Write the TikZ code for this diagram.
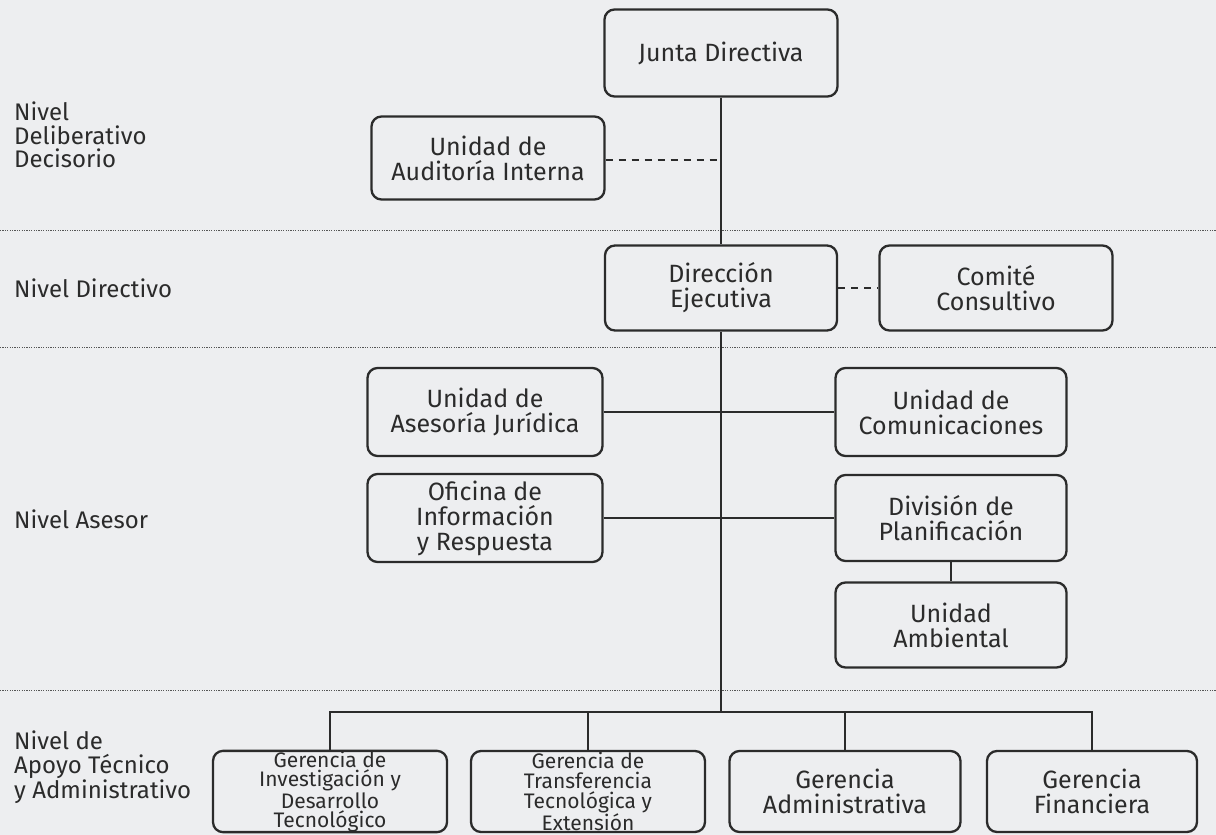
\documentclass[tikz,border=0pt]{standalone}
\usepackage{fontspec}
\setmainfont{Fira Sans}
\definecolor{bg}{HTML}{EDEEF0}
\definecolor{ink}{HTML}{2B2B2B}
\begin{document}
\begin{tikzpicture}[x=1pt,y=-1pt,
  box/.style={draw=ink,line width=2.3pt,rounded corners=10pt,align=center,inner sep=1pt,
    font=\fontsize{25}{25}\selectfont,text=ink},
  sbox/.style={box,inner sep=0pt,font=\fontsize{21}{19.6}\selectfont},
  conn/.style={draw=ink,line width=1.8pt},
  dconn/.style={draw=ink,line width=1.8pt,dash pattern=on 7pt off 6pt},
  sep/.style={draw=ink!80,line width=0.9pt,dash pattern=on 1.2pt off 1.2pt},
  lvl/.style={align=left,font=\fontsize{24}{23.5}\selectfont,text=ink,inner sep=0pt}]
\fill[bg] (0,0) rectangle (1216,835);
\useasboundingbox (0,0) rectangle (1216,835);
% separators
\draw[sep] (0,230) -- (1216,230);
\draw[sep] (0,347) -- (1216,347);
\draw[sep] (0,690) -- (1216,690);
% level labels
\node[lvl,anchor=north west] (l1) at (14,102) {Nivel\\Deliberativo\\Decisorio};
\node[lvl,anchor=base west] (l2) at (14,297) {Nivel Directivo};
\node[lvl,anchor=base west] (l3) at (14,528) {Nivel Asesor};
\node[lvl,anchor=north west] (l4) at (14,731) {Nivel de\\Apoyo Técnico\\y Administrativo};
% boxes
\node[box,minimum width=233pt,minimum height=87pt] (jd) at (721,53) {Junta Directiva};
\node[box,minimum width=233pt,minimum height=83pt] (aud) at (488,158) {Unidad de\\Auditoría Interna};
\node[box,minimum width=232pt,minimum height=85pt] (de) at (721,288) {Dirección\\Ejecutiva};
\node[box,minimum width=233pt,minimum height=85pt] (cc) at (996,288) {Comité\\Consultivo};
\node[box,minimum width=235pt,minimum height=88pt] (aj) at (485,412) {Unidad de\\Asesoría Jurídica};
\node[box,minimum width=231pt,minimum height=88pt] (com) at (951,412) {Unidad de\\Comunicaciones};
\node[box,minimum width=235pt,minimum height=88pt] (ofi) at (485,518) {Oficina de\\Información\\y Respuesta};
\node[box,minimum width=231pt,minimum height=86pt] (plan) at (951,518) {División de\\Planificación};
\node[box,minimum width=231pt,minimum height=85pt] (amb) at (951,625) {Unidad\\Ambiental};
\node[sbox,minimum width=234pt,minimum height=81pt] (g1) at (330,791.5) {Gerencia de\\Investigación y\\Desarrollo\\Tecnológico};
\node[sbox,minimum width=234pt,minimum height=81pt] (g2) at (588,791.5) {Gerencia de\\Transferencia\\Tecnológica y\\Extensión};
\node[box,minimum width=231pt,minimum height=81pt] (g3) at (845,791.5) {Gerencia\\Administrativa};
\node[box,minimum width=210pt,minimum height=81pt] (g4) at (1092,791.5) {Gerencia\\Financiera};
% connectors
\coordinate (bus) at (721,712);
\coordinate (audj) at (721,160);
\draw[conn] (jd.south) -- (de.north);
\draw[conn] (de.south) -- (bus);
\draw[dconn] (aud.east |- audj) -- (audj);
\draw[dconn] (de.east) -- (cc.west);
\draw[conn] (aj.east) -- (com.west);
\draw[conn] (ofi.east) -- (plan.west);
\draw[conn] (plan.south) -- (amb.north);
\draw[conn] (g1.north) |- (bus) -| (g4.north);
\draw[conn] (g2.north) -- (g2.north |- bus);
\draw[conn] (g3.north) -- (g3.north |- bus);
\end{tikzpicture}
\end{document}
